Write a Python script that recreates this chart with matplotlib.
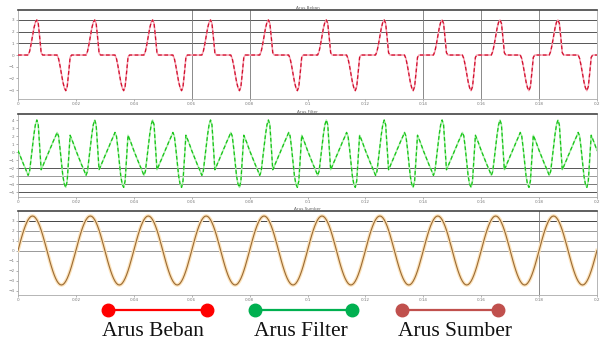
import numpy as np
import matplotlib
matplotlib.use("Agg")
import matplotlib.pyplot as plt
from matplotlib.lines import Line2D

# ---- data (one 20 ms period sampled every 0.5 ms, repeated for 10 periods) ----
panel_titles = ["Arus Beban", "Arus Filter", "Arus Sumber"]
legend_labels = ["Arus Beban", "Arus Filter", "Arus Sumber"]
n_periods = 10
period_s = 0.02
sample_step_s = 0.0005

arus_beban_period = [0, 0, 0, 0, 0, 0, 0, 0,
                     0.3, 0.9, 1.6, 2.3, 2.8, 3.0, 2.7, 1.5, 0.2, 0, 0, 0,
                     0, 0, 0, 0, 0, 0, 0, 0,
                     -0.3, -0.9, -1.6, -2.3, -2.8, -3.05, -2.7, -1.5, -0.2, 0, 0, 0]

arus_filter_period = [0.2, -0.25, -0.7, -1.15, -1.6, -2.0, -2.45, -2.9,
                      -2.4, -0.9, 0.7, 2.2, 3.4, 4.0, 3.4, 0.5, -2.2, -1.8, -1.35, -0.95,
                      -0.5, -0.1, 0.35, 0.75, 1.2, 1.6, 2.0, 2.45,
                      2.0, 0.5, -1.3, -3.0, -4.0, -4.4, -3.6, -0.8, 2.1, 1.65, 1.2, 0.7]

arus_sumber_period = [0, 0.54, 1.07, 1.57, 2.03, 2.44, 2.79, 3.07, 3.28, 3.41,
                      3.45, 3.41, 3.28, 3.07, 2.79, 2.44, 2.03, 1.57, 1.07, 0.54,
                      0, -0.54, -1.07, -1.57, -2.03, -2.44, -2.79, -3.07, -3.28, -3.41,
                      -3.45, -3.41, -3.28, -3.07, -2.79, -2.44, -2.03, -1.57, -1.07, -0.54]

x_ticks = [0, 0.02, 0.04, 0.06, 0.08, 0.1, 0.12, 0.14, 0.16, 0.18, 0.2]
x_tick_labels = ["0", "0.02", "0.04", "0.06", "0.08", "0.1", "0.12", "0.14", "0.16", "0.18", "0.2"]

# ---- style / layout ----
W, H = 601, 342
fig = plt.figure(figsize=(W / 100, H / 100), dpi=100)

def px_axes(left, top, right, bottom):
    return fig.add_axes([left / W, 1 - bottom / H, (right - left) / W, (bottom - top) / H])

axes_px = [(18, 10, 597, 99), (18, 114, 597, 197), (18, 211, 597, 295)]
ylims = [(-3.76, 3.85), (-5.6, 4.75), (-4.45, 3.95)]
yticks = [[-3, -2, -1, 0, 1, 2, 3], [-5, -4, -3, -2, -1, 0, 1, 2, 3, 4], [-4, -3, -2, -1, 0, 1, 2, 3]]
hlines = [[(1, "#555555"), (2, "#555555"), (3, "#555555")],
          [(-2, "#555555"), (-3, "#999999"), (-4, "#777777"), (-5, "#555555")],
          [(0, "#999999"), (1, "#999999"), (2, "#999999"), (3, "#444444")]]
vlines = [[0.06, 0.08, 0.14, 0.16, 0.18], [], [0.18]]

def series(period):
    vals = np.tile(np.asarray(period, dtype=float), n_periods)
    vals = np.append(vals, period[0])
    t = np.arange(len(vals)) * sample_step_s
    return t, vals

data = [arus_beban_period, arus_filter_period, arus_sumber_period]

for i, (box, period) in enumerate(zip(axes_px, data)):
    ax = px_axes(*box)
    t, v = series(period)
    if i == 0:
        ax.plot(t, v, color="#F7A0B0", lw=1.1, zorder=3)
        ax.plot(t, v, color="#D0102E", lw=0.9, dashes=(3, 2), zorder=4)
    elif i == 1:
        ax.plot(t, v, color="#A8EEA8", lw=1.1, zorder=3)
        ax.plot(t, v, color="#18C418", lw=0.9, dashes=(3, 2), zorder=4)
    else:
        ax.plot(t, v, color="#FCE2BA", lw=2.6, zorder=3)
        ax.plot(t, v, color="#9A6A33", lw=0.8, zorder=4)
    for y, c in hlines[i]:
        ax.axhline(y, color=c, lw=0.7, zorder=1)
    for x in vlines[i]:
        ax.axvline(x, color="#777777", lw=0.6, zorder=1)
    ax.set_xlim(0, n_periods * period_s)
    ax.set_ylim(*ylims[i])
    ax.set_xticks(x_ticks)
    ax.set_xticklabels(x_tick_labels)
    ax.set_yticks(yticks[i])
    ax.tick_params(labelsize=3, length=1.5, width=0.4, pad=1, colors="#777777")
    for s in ax.spines.values():
        s.set_color("#AAAAAA")
        s.set_linewidth(0.6)
    ax.spines["top"].set_color("#444444")
    ax.spines["top"].set_linewidth(1.2)
    ax.set_title(panel_titles[i], fontsize=3, color="#666666", pad=1)

# ---- legend drawn below ----
legend_colors = ["#FF0000", "#00B050", "#C0504D"]
line_px = [(108, 207), (255, 352), (402, 498)]
text_cx = [153, 301, 455]
for lab, col, (x0, x1), cx in zip(legend_labels, legend_colors, line_px, text_cx):
    fig.add_artist(Line2D([x0 / W, x1 / W], [1 - 310 / H, 1 - 310 / H], transform=fig.transFigure,
                          color=col, lw=1.6, marker="o", markersize=9, markerfacecolor=col,
                          markeredgecolor=col))
    fig.text(cx / W, 1 - 331 / H, lab, ha="center", va="center", fontsize=15.5,
             family="Liberation Serif", color="#111111")

fig.savefig("out.png", dpi=100)
